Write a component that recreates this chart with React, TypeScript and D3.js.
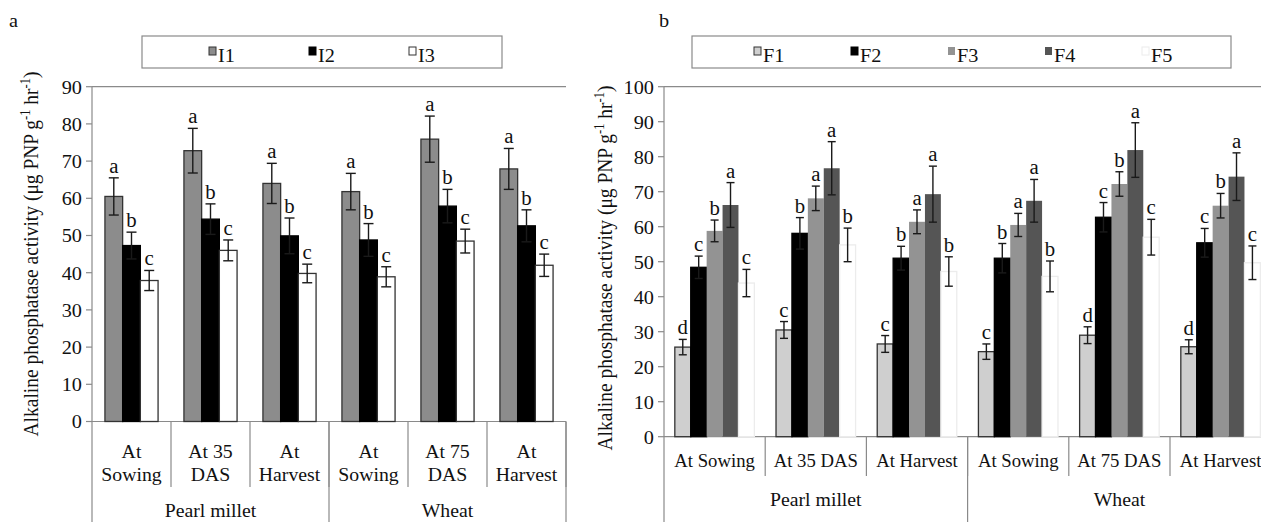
import React from 'react';
import * as d3 from 'd3';

const W = 1261;
const H = 522;
const FONT = '"Liberation Serif", "Times New Roman", serif';
const SX = 1.04; // the source figure is slightly stretched horizontally

// shared
const crops = ['Pearl millet', 'Wheat'];

// panel a : irrigation
const stagesA = [['At', 'Sowing'], ['At 35', 'DAS'], ['At', 'Harvest'], ['At', 'Sowing'], ['At 75', 'DAS'], ['At', 'Harvest']];
const irrigation = ['I1', 'I2', 'I3'];
const irrMeans = [
  [60.5, 72.8, 64.0, 61.8, 75.9, 67.9],
  [47.3, 54.4, 49.9, 48.8, 57.9, 52.6],
  [37.9, 46.0, 39.8, 38.9, 48.5, 42.0],
];
const irrErrs = [
  [5.0, 6.0, 5.4, 4.9, 6.2, 5.5],
  [3.6, 4.1, 4.8, 4.4, 4.5, 4.3],
  [2.7, 2.8, 2.5, 2.7, 3.2, 3.0],
];
const irrLetters = [
  ['a', 'a', 'a', 'a', 'a', 'a'],
  ['b', 'b', 'b', 'b', 'b', 'b'],
  ['c', 'c', 'c', 'c', 'c', 'c'],
];
const irrTicks = [0, 10, 20, 30, 40, 50, 60, 70, 80, 90];

// panel b : fertility
const stagesB = [['At Sowing'], ['At 35 DAS'], ['At Harvest'], ['At Sowing'], ['At 75 DAS'], ['At Harvest']];
const fertility = ['F1', 'F2', 'F3', 'F4', 'F5'];
const fertMeans = [
  [25.6, 30.5, 26.5, 24.3, 29.0, 25.7],
  [48.4, 58.1, 51.0, 51.0, 62.7, 55.4],
  [58.8, 68.1, 61.4, 60.5, 72.2, 66.0],
  [66.2, 76.7, 69.3, 67.4, 81.9, 74.3],
  [43.9, 54.8, 47.2, 45.8, 57.0, 49.7],
];
const fertErrs = [
  [2.2, 2.4, 2.4, 2.2, 2.4, 2.0],
  [3.2, 4.5, 3.4, 4.2, 4.2, 4.1],
  [3.1, 3.5, 3.4, 3.3, 3.5, 3.5],
  [6.4, 7.6, 8.0, 6.1, 7.8, 6.8],
  [3.9, 4.8, 4.2, 4.4, 5.1, 4.8],
];
const fertLetters = [
  ['d', 'c', 'c', 'c', 'd', 'd'],
  ['c', 'b', 'b', 'b', 'c', 'c'],
  ['b', 'a', 'a', 'a', 'b', 'b'],
  ['a', 'a', 'a', 'a', 'a', 'a'],
  ['c', 'b', 'b', 'b', 'c', 'c'],
];
const fertTicks = [0, 10, 20, 30, 40, 50, 60, 70, 80, 90, 100];

// stretched text
function T({ x, y, children, anchor = 'start', size = 19, dy }: any) {
  return (
    <text transform={`translate(${x},${y}) scale(${SX},1)`} textAnchor={anchor} fontSize={size} dy={dy}>
      {children}
    </text>
  );
}

type PanelProps = {
  tag: string;
  tagX: number;
  legendBox: [number, number];
  legendStart: number;
  legendStep: number;
  series: string[];
  fills: string[];
  strokes: string[];
  means: number[][];
  errs: number[][];
  letters: string[][];
  ticks: number[];
  xRange: [number, number];
  yTop: number;
  yBottom: number;
  padOuter: number;
  cap: number;
  stages: string[][];
  stageSize: number;
  stageBase: number;
  stageLine: number;
  stageSepEnd: number;
  cropBase: number;
  cropSepEnd: number;
  titleX: number;
  titleY: number;
};

function Panel(p: PanelProps) {
  const yMax = p.ticks[p.ticks.length - 1];
  const y = d3.scaleLinear().domain([0, yMax]).range([p.yBottom, p.yTop]);
  const xg = d3.scaleBand<number>().domain(d3.range(p.stages.length)).range(p.xRange).padding(0);
  const xs = d3
    .scaleBand<number>()
    .domain(d3.range(p.series.length))
    .range([0, xg.bandwidth()])
    .paddingInner(0)
    .paddingOuter(p.padOuter);
  const xc = d3.scaleBand<number>().domain(d3.range(crops.length)).range(p.xRange).padding(0);
  const axisX = p.xRange[0];
  const axisColor = '#8a8a8a';
  const bw = xs.bandwidth();
  const cap = p.cap;

  return (
    <g fontFamily={FONT} fill="#111">
      <T x={p.tagX} y={27} size={19.5}>{p.tag}</T>

      {/* legend */}
      <rect x={p.legendBox[0]} y={36} width={p.legendBox[1] - p.legendBox[0]} height={32} fill="#fff" stroke={axisColor} strokeWidth={1.2} />
      {p.series.map((s, i) => {
        const lx = p.legendStart + i * p.legendStep;
        return (
          <g key={s}>
            <rect x={lx} y={47} width={7} height={8} fill={p.fills[i]} stroke={p.strokes[i]} strokeWidth={1} />
            <T x={lx + 9} y={62} size={19.5}>{s}</T>
          </g>
        );
      })}

      {/* plot frame */}
      <line x1={axisX} x2={p.xRange[1]} y1={p.yTop} y2={p.yTop} stroke={axisColor} strokeWidth={1.2} />
      <line x1={axisX} x2={axisX} y1={p.yTop} y2={p.cropSepEnd} stroke={axisColor} strokeWidth={1.2} />
      <line x1={axisX} x2={p.xRange[1]} y1={p.yBottom} y2={p.yBottom} stroke={axisColor} strokeWidth={1.2} />

      {/* y ticks */}
      {p.ticks.map((t) => (
        <g key={t}>
          <line x1={axisX - 6} x2={axisX} y1={y(t)} y2={y(t)} stroke={axisColor} strokeWidth={1.2} />
          <T x={axisX - 10} y={y(t)} dy="0.35em" anchor="end" size={19.5}>{t}</T>
        </g>
      ))}

      {/* y title */}
      <text transform={`translate(${p.titleX},${p.titleY}) rotate(-90) scale(1,1.1)`} textAnchor="middle" fontSize={19.5}>
        Alkaline phosphatase activity (μg PNP g
        <tspan fontSize={12.5} dy={-7}>-1</tspan>
        <tspan dy={7}> hr</tspan>
        <tspan fontSize={12.5} dy={-7}>-1</tspan>
        <tspan dy={7}>)</tspan>
      </text>

      {/* bars */}
      {p.series.map((s, si) => (
        <g key={s}>
          {p.means[si].map((v, gi) => {
            const x = (xg(gi) as number) + (xs(si) as number);
            return (
              <rect
                key={gi}
                x={x}
                y={y(v)}
                width={bw}
                height={y(0) - y(v)}
                fill={p.fills[si]}
                stroke={p.strokes[si]}
                strokeWidth={p.strokes[si] === 'none' ? 0 : 1.3}
              />
            );
          })}
        </g>
      ))}

      {/* error bars and letters */}
      {p.series.map((s, si) => (
        <g key={s + 'e'}>
          {p.means[si].map((v, gi) => {
            const cx = (xg(gi) as number) + (xs(si) as number) + bw / 2;
            const e = p.errs[si][gi];
            return (
              <g key={gi}>
                <line x1={cx} x2={cx} y1={y(v + e)} y2={y(v - e)} stroke="#1a1a1a" strokeWidth={1.4} />
                <line x1={cx - cap} x2={cx + cap} y1={y(v + e)} y2={y(v + e)} stroke="#1a1a1a" strokeWidth={1.4} />
                <line x1={cx - cap} x2={cx + cap} y1={y(v - e)} y2={y(v - e)} stroke="#1a1a1a" strokeWidth={1.4} />
                <T x={cx} y={y(v + e) - 5} anchor="middle" size={20}>{p.letters[si][gi]}</T>
              </g>
            );
          })}
        </g>
      ))}

      {/* category axis */}
      {p.stages.map((lines, gi) => (
        <g key={gi}>
          <line x1={(xg(gi) as number) + xg.bandwidth()} x2={(xg(gi) as number) + xg.bandwidth()} y1={p.yBottom} y2={p.stageSepEnd} stroke={axisColor} strokeWidth={1.2} />
          {lines.map((l, li) => (
            <T key={li} x={(xg(gi) as number) + xg.bandwidth() / 2} y={p.stageBase + li * p.stageLine} anchor="middle" size={p.stageSize}>{l}</T>
          ))}
        </g>
      ))}
      {crops.map((c, ci) => (
        <g key={c}>
          <line x1={(xc(ci) as number) + xc.bandwidth()} x2={(xc(ci) as number) + xc.bandwidth()} y1={p.yBottom} y2={p.cropSepEnd} stroke={axisColor} strokeWidth={1.2} />
          <T x={(xc(ci) as number) + xc.bandwidth() / 2} y={p.cropBase} anchor="middle" size={19}>{c}</T>
        </g>
      ))}
    </g>
  );
}

export default function App() {
  return (
    <svg width={W} height={H} style={{ position: 'absolute', left: 0, top: 0, background: '#fff' }}>
      <rect width={W} height={H} fill="#fff" />
      <Panel
        tag="a"
        tagX={9}
        legendBox={[142, 502]}
        legendStart={209}
        legendStep={100}
        series={irrigation}
        fills={['#8c8c8c', '#000000', '#ffffff']}
        strokes={['#333333', '#000000', '#333333']}
        means={irrMeans}
        errs={irrErrs}
        letters={irrLetters}
        ticks={irrTicks}
        xRange={[92, 566]}
        yTop={86.7}
        yBottom={421.5}
        padOuter={0.73}
        cap={5}
        stages={stagesA}
        stageSize={19}
        stageBase={458}
        stageLine={23}
        stageSepEnd={487}
        cropBase={517}
        cropSepEnd={522}
        titleX={38}
        titleY={254}
      />
      <Panel
        tag="b"
        tagX={659}
        legendBox={[692, 1231]}
        legendStart={754}
        legendStep={97}
        series={fertility}
        fills={['#cfcfcf', '#000000', '#939393', '#555555', '#ffffff']}
        strokes={['#333333', '#000000', 'none', 'none', '#ececec']}
        means={fertMeans}
        errs={fertErrs}
        letters={fertLetters}
        ticks={fertTicks}
        xRange={[664, 664 + 6 * 101.2]}
        yTop={86.7}
        yBottom={436.7}
        padOuter={0.68}
        cap={4}
        stages={stagesB}
        stageSize={18}
        stageBase={467}
        stageLine={24}
        stageSepEnd={476}
        cropBase={506}
        cropSepEnd={522}
        titleX={612}
        titleY={268}
      />
    </svg>
  );
}
